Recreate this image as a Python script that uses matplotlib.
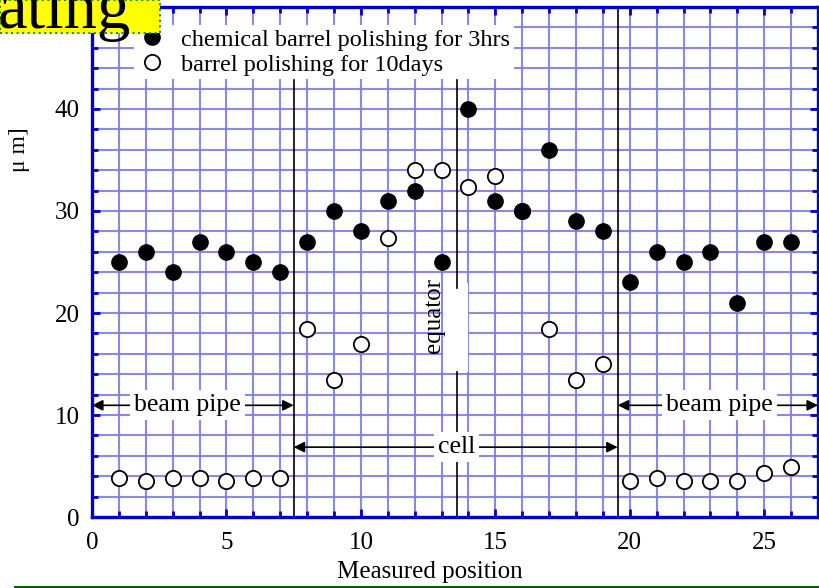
import matplotlib
matplotlib.use("Agg")
import matplotlib.pyplot as plt
from matplotlib.patches import Rectangle
from matplotlib.lines import Line2D
from matplotlib.ticker import MultipleLocator

positions = list(range(1, 27))
chem_3hrs = [25, 26, 24, 27, 26, 25, 24, 27, 30, 28, 31, 32, 25, 40, 31, 30, 36, 29, 28, 23, 26, 25, 26, 21, 27, 27]
barrel_10days = [3.8, 3.5, 3.8, 3.8, 3.5, 3.8, 3.8, 18.4, 13.4, 17.0, 27.4, 34.0, 34.0, 32.4, 33.4, 30.0, 18.4, 13.4, 15.0,
                 3.5, 3.8, 3.5, 3.5, 3.5, 4.3, 4.9]
series_labels = ["chemical barrel polishing for 3hrs", "barrel polishing for 10days"]
cell_start, cell_end, equator = 7.5, 19.55, 13.56

plt.rcParams['font.family'] = ['Liberation Serif', 'DejaVu Serif']
W, H = 820, 588
fig = plt.figure(figsize=(W / 100, H / 100), dpi=100)
ax = fig.add_axes([92 / W, 1 - 517 / H, (818 - 92) / W, (517 - 7) / H])

blue = '#0000d0'
gridc = '#7c7cea'
ax.set_xlim(0, 27)
ax.set_ylim(0, 50)
ax.xaxis.set_major_locator(MultipleLocator(5))
ax.xaxis.set_minor_locator(MultipleLocator(1))
ax.yaxis.set_major_locator(MultipleLocator(10))
ax.yaxis.set_minor_locator(MultipleLocator(2))
ax.set_yticks([0, 10, 20, 30, 40])
ax.grid(which='both', color=gridc, lw=1.5, alpha=0.9, zorder=0)
ax.set_axisbelow(True)
for s in ax.spines.values():
    s.set_color(blue)
    s.set_linewidth(2.4)
ax.tick_params(which='both', direction='in', top=True, right=True, color=blue, labelsize=18)
ax.tick_params(axis='x', pad=11)
ax.tick_params(axis='y', pad=9)
ax.tick_params(which='major', length=6, width=2)
ax.tick_params(which='minor', length=4, width=2)

ax.set_xlabel('Measured position', fontsize=18)
ax.xaxis.set_label_coords((430 - 92) / 726, -44 / 510)
fig.text(20 / W, 1 - 150 / H, 'μ m]', rotation=90, fontsize=17, ha='center', va='center')

# structure lines
ax.plot([cell_start, cell_start], [0, 42.8], color='black', lw=1.2, zorder=2)
ax.plot([cell_end, cell_end], [0, 50], color='black', lw=1.2, zorder=2)
ax.plot([equator, equator], [22.5, 42.8], color='black', lw=1.2, zorder=2)
ax.plot([equator, equator], [0, 14.2], color='black', lw=1.2, zorder=2)
ax.add_patch(Rectangle((13.05, 14.2), 0.93, 8.7, facecolor='white', edgecolor='none', zorder=1.5))
ax.text(12.72, 19.8, 'equator', rotation=90, fontsize=18, ha='center', va='center', zorder=3)

# data
ax.plot(positions, barrel_10days, 'o', mfc='white', mec='black', mew=1.3, ms=11, zorder=3, label=series_labels[1])
ax.plot(positions, chem_3hrs, 'o', mfc='black', mec='black', ms=11, zorder=4, label=series_labels[0])

# arrows
ap = dict(arrowstyle='<|-|>', color='black', lw=1.2, mutation_scale=16, shrinkA=0, shrinkB=0)
ax.annotate('', xy=(0, 10.95), xytext=(cell_start, 10.95), arrowprops=ap, zorder=2)
ax.annotate('', xy=(cell_start, 6.85), xytext=(cell_end, 6.85), arrowprops=ap, zorder=2)
ax.annotate('', xy=(cell_end, 10.95), xytext=(27, 10.95), arrowprops=ap, zorder=2)
tb = dict(facecolor='white', edgecolor='none', pad=3)
ax.text(3.55, 10.95, 'beam pipe', fontsize=18.5, ha='center', va='center', bbox=tb, zorder=3)
ax.text(equator, 6.85, 'cell', fontsize=18.5, ha='center', va='center', bbox=tb, zorder=3)
ax.text(23.35, 10.95, 'beam pipe', fontsize=18.5, ha='center', va='center', bbox=tb, zorder=3)

h, l = ax.get_legend_handles_labels()
leg = ax.legend(h[::-1], l[::-1], loc='upper left', bbox_to_anchor=(134 / W, 1 - 25 / H),
                bbox_transform=fig.transFigure, fontsize=17.5, frameon=True, fancybox=False,
                handlelength=1.2, handletextpad=0.6, labelspacing=0.12, borderpad=0.15, borderaxespad=0)
leg.get_frame().set_facecolor('white')
leg.get_frame().set_edgecolor('none')
leg.get_frame().set_alpha(1)
leg.set_zorder(5)

# title box
fig.patches.append(Rectangle((0, 1 - 33 / H), 160 / W, 33 / H, transform=fig.transFigure,
                             facecolor='#ffff00', edgecolor='#228b22', linestyle=':', lw=1.5, zorder=6))
fig.text(-2 / W, 1 - 28 / H, 'ating', fontsize=48, ha='left', va='baseline', zorder=7)

fig.lines.append(Line2D([15 / W, 1], [1 - 587 / H, 1 - 587 / H], transform=fig.transFigure, color='#006400', lw=1.5))

fig.savefig('out.png', dpi=100)
